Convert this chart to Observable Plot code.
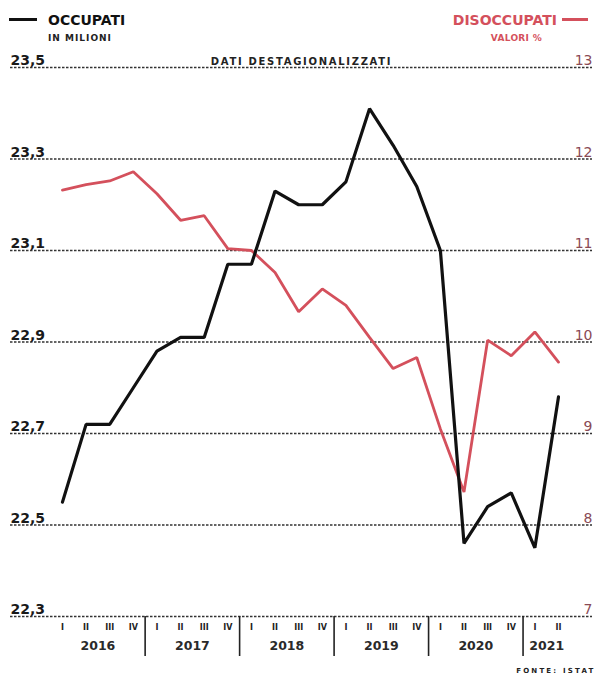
<!DOCTYPE html>
<html>
<head>
<meta charset="utf-8">
<script src="https://cdn.jsdelivr.net/npm/d3@7"></script>
<script src="https://cdn.jsdelivr.net/npm/@observablehq/plot@0.6"></script>
<style>
  body { margin: 0; background: #fff; font-family: "DejaVu Sans", sans-serif; }
  #wrap { width: 599px; }
  #legend { position: relative; height: 46px; }
  #legend .a { position: absolute; white-space: nowrap; font-weight: bold; }
  #legend .big { font-size: 14px; line-height: 14px; top: 13px; }
  #legend .small { font-size: 9px; line-height: 9px; top: 34px; letter-spacing: 1px; }
  #legend .sw { position: absolute; top: 18px; height: 3px; }
</style>
</head>
<body>
<div id="wrap">
  <div id="legend">
    <div class="sw" style="left:9px;width:28px;background:#111"></div>
    <div class="a big" style="left:48px;color:#111">OCCUPATI</div>
    <div class="a small" style="left:48px;color:#222">IN MILIONI</div>
    <div class="a big" style="right:42px;color:#d4505c">DISOCCUPATI</div>
    <div class="sw" style="left:562px;width:26px;background:#d4505c"></div>
    <div class="a small" style="right:57px;color:#d4505c;letter-spacing:0.3px">VALORI %</div>
  </div>
  <div id="chart"></div>
</div>
<script>
// Quarters 2016 Q1 .. 2021 Q2
const quarterLabels = ["I","II","III","IV","I","II","III","IV","I","II","III","IV","I","II","III","IV","I","II","III","IV","I","II"];
const yearLabels = ["2016","2017","2018","2019","2020","2021"];
const yearCenters = [1.5, 5.5, 9.5, 13.5, 17.5, 20.5];
const yearBreaks = [3.5, 7.5, 11.5, 15.5, 19.5];

// Occupati (millions) – left axis
const occupati = [22.55, 22.72, 22.72, 22.80, 22.88, 22.91, 22.91, 23.07, 23.07, 23.23, 23.20, 23.20,
                  23.25, 23.41, 23.33, 23.24, 23.10, 22.46, 22.54, 22.57, 22.45, 22.78];
// Disoccupati (%) – right axis
const disoccupati = [11.66, 11.72, 11.76, 11.86, 11.62, 11.33, 11.38, 11.02, 11.00, 10.76, 10.33, 10.58,
                     10.40, 10.05, 9.71, 9.83, 9.05, 8.36, 10.02, 9.85, 10.11, 9.78];

const leftTicks = [22.3, 22.5, 22.7, 22.9, 23.1, 23.3, 23.5];
const rightTicks = [7, 8, 9, 10, 11, 12, 13];

// map right-axis values (7..13) onto left scale (22.3..23.5)
const toLeft = v => 22.3 + (v - 7) * 0.2;
const fmt = d => d.toFixed(1).replace(".", ",");

const occRows = occupati.map((v, i) => ({i, v}));
const disRows = disoccupati.map((v, i) => ({i, v}));
const qRows = quarterLabels.map((q, i) => ({i, q}));
const yRows = yearLabels.map((y, k) => ({x: yearCenters[k], y}));

const red = "#d4505c";
const note = "DATI DESTAGIONALIZZATI";
const source = "FONTE: ISTAT";

const chart = Plot.plot({
  width: 599,
  height: 633,
  marginTop: 21,
  marginBottom: 63,
  marginLeft: 10,
  marginRight: 7,
  x: {domain: [-2.2, 22.44]},
  y: {domain: [22.3, 23.5], axis: null},
  style: {fontFamily: "DejaVu Sans, sans-serif", background: "white", overflow: "visible"},
  marks: [
    Plot.ruleY(leftTicks, {y: d => d, stroke: "#333", strokeWidth: 1.3, strokeDasharray: "2.5,1.5"}),
    Plot.text(leftTicks, {y: d => d, text: fmt, frameAnchor: "left", textAnchor: "start", lineAnchor: "bottom",
      dy: -2.5, fontSize: 14, fontWeight: "bold", fill: "#1a1a1a"}),
    Plot.text(rightTicks, {y: d => toLeft(d), text: d => String(d), frameAnchor: "right", textAnchor: "end",
      lineAnchor: "bottom", dy: -2.5, fontSize: 14, fill: "#8a4a55"}),
    Plot.text([note], {frameAnchor: "top", lineAnchor: "bottom", dy: -3, fontSize: 10,
      fontWeight: "bold", fill: "#222"}),
    Plot.line(disRows, {x: "i", y: d => toLeft(d.v), stroke: red, strokeWidth: 2.8, strokeLinejoin: "miter"}),
    Plot.line(occRows, {x: "i", y: "v", stroke: "#111", strokeWidth: 3.2, strokeLinejoin: "miter"}),
    Plot.text(qRows, {x: "i", text: "q", frameAnchor: "bottom", lineAnchor: "top", dy: 8, fontSize: 8,
      fontWeight: "bold", fill: "#222"}),
    Plot.text(yRows, {x: "x", text: "y", frameAnchor: "bottom", lineAnchor: "top", dy: 25, fontSize: 12.5,
      fontWeight: "bold", fill: "#2a2a2a"}),
    Plot.axisX(yearBreaks, {tickSize: 40, tickFormat: () => "", strokeWidth: 1.6, stroke: "#222"}),
    Plot.text([source], {frameAnchor: "bottom-right", textAnchor: "end", lineAnchor: "top", dy: 52, dx: 3,
      fontSize: 7, fontWeight: "bold", fill: "#222"})
  ]
});
d3.select(chart).selectAll("text").each(function () {
  if (this.textContent === note) d3.select(this).style("letter-spacing", "1.7px");
  if (this.textContent === source) d3.select(this).style("letter-spacing", "2.2px");
});
document.getElementById("chart").appendChild(chart);
</script>
</body>
</html>
